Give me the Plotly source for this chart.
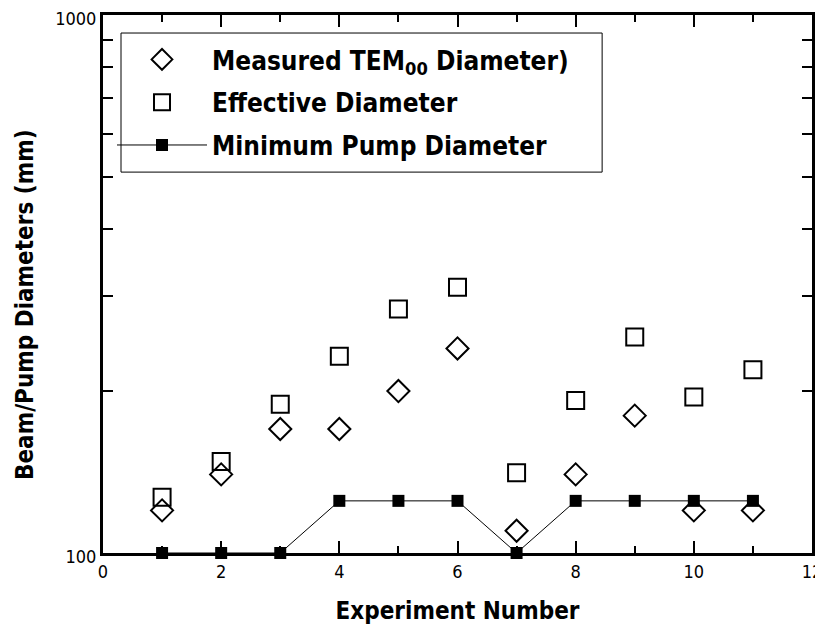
import plotly.graph_objects as go

experiment = [1, 2, 3, 4, 5, 6, 7, 8, 9, 10, 11]
measured_tem00 = [120, 140, 170, 170, 200, 240, 110, 140, 180, 120, 120]
effective = [127, 148, 189, 232, 284, 312, 141, 192, 252, 195, 219]
minimum_pump = [100, 100, 100, 125, 125, 125, 100, 125, 125, 125, 125]

y_major = [100, 1000]
y_minor = [200, 300, 400, 500, 600, 700, 800, 900]

FONT = "DejaVu Sans Condensed, Liberation Sans, sans-serif"

fig = go.Figure()
fig.add_trace(go.Scatter(
    x=experiment, y=measured_tem00, mode="markers", legendgroup="a",
    name="Measured TEM<sub>00</sub> Diameter)",
    marker=dict(symbol="diamond-open", size=17, color="black", line=dict(width=2, color="black")),
))
fig.add_trace(go.Scatter(
    x=experiment, y=effective, mode="markers", legendgroup="b",
    name="Effective Diameter",
    marker=dict(symbol="square-open", size=17, color="black", line=dict(width=2, color="black")),
))
fig.add_trace(go.Scatter(
    x=experiment, y=minimum_pump, mode="lines+markers", legendgroup="c",
    name="Minimum Pump Diameter",
    line=dict(color="black", width=1),
    marker=dict(symbol="square", size=12, color="black"),
    cliponaxis=False,
))

# legend frame
fig.add_shape(type="rect", xref="paper", yref="paper",
              x0=0.0254, x1=0.704, y0=0.708, y1=0.9665,
              line=dict(color="black", width=1), fillcolor="rgba(0,0,0,0)", layer="above")

# y-axis title as annotation (placed slightly below the plot centre, as in the reference)
fig.add_annotation(text="<b>Beam/Pump Diameters (mm)</b>", xref="paper", yref="paper",
                   x=-0.110, y=0.461, xanchor="center", yanchor="middle",
                   textangle=-90, showarrow=False, font=dict(family=FONT, size=24, color="black"))

fig.update_layout(
    width=815, height=617,
    margin=dict(l=95, r=11, t=7, b=72),
    paper_bgcolor="white", plot_bgcolor="white",
    font=dict(family=FONT, color="black", size=18),
    showlegend=True,
    legend=dict(
        x=0.0127, y=0.9610, xanchor="left", yanchor="top",
        bgcolor="rgba(0,0,0,0)", borderwidth=0,
        font=dict(family=FONT, size=26, color="black", weight="bold"),
        itemwidth=90, tracegroupgap=6,
    ),
    xaxis=dict(
        range=[0, 12], tickmode="linear", tick0=0, dtick=2,
        ticks="inside", ticklen=12, tickwidth=2, tickcolor="black",
        minor=dict(dtick=1, ticks="inside", ticklen=7, tickwidth=2, tickcolor="black"),
        showline=True, linewidth=3, linecolor="black", mirror="allticks",
        showgrid=False, zeroline=False, automargin=False,
        tickfont=dict(size=18), ticklabeloverflow="allow",
        title=dict(text="Experiment Number", font=dict(size=24, weight="bold"), standoff=24),
    ),
    yaxis=dict(
        type="log", range=[2, 3],
        tickmode="array", tickvals=y_major, ticktext=["100", "1000"],
        ticks="inside", ticklen=10, tickwidth=2, tickcolor="black",
        minor=dict(tickvals=y_minor, ticks="inside", ticklen=10, tickwidth=2, tickcolor="black"),
        showline=True, linewidth=3, linecolor="black", mirror="allticks",
        showgrid=False, zeroline=False, automargin=False,
        tickfont=dict(size=18), ticklabeloverflow="allow", ticklabelshift=4,
    ),
)

fig.write_html("out.html")
